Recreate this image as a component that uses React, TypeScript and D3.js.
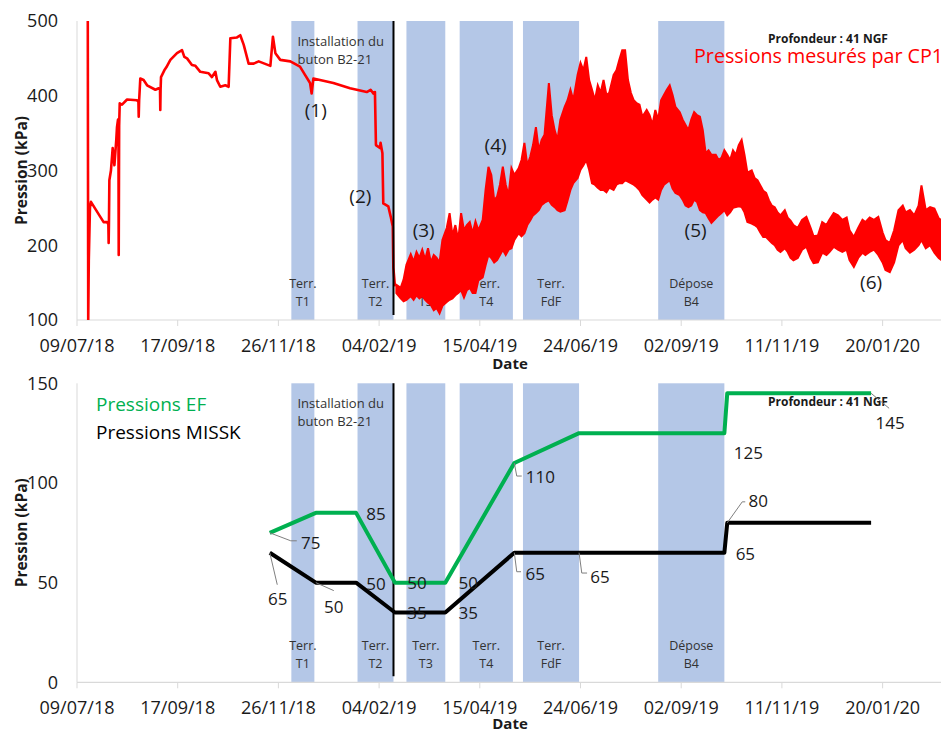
import React from 'react';
import * as d3 from 'd3';

// ---------- DATA ----------
const START = '2018-07-09';
const END = '2020-03-01';

const tickLabels = ['09/07/18', '17/09/18', '26/11/18', '04/02/19', '15/04/19', '24/06/19', '02/09/19', '11/11/19', '20/01/20'];
const topYTicks = [100, 200, 300, 400, 500];
const bottomYTicks = [0, 50, 100, 150];

const bandLabels = [['Terr.', 'T1'], ['Terr.', 'T2'], ['Terr.', 'T3'], ['Terr.', 'T4'], ['Terr.', 'FdF'], ['Dépose', 'B4']];
const bandStarts = ['2018-12-05', '2019-01-20', '2019-02-23', '2019-04-01', '2019-05-15', '2019-08-17'];
const bandEnds = ['2018-12-21', '2019-02-14', '2019-03-22', '2019-05-08', '2019-06-23', '2019-10-02'];
const installDate = '2019-02-14';
const installText = ['Installation du', 'buton B2-21'];

// CP1 measured pressures (days since 09/07/18, kPa) - quiet part
const cp1Days = [7.5, 7.8, 8.2, 9.0, 9.7, 16.2, 18.5, 20.9, 21.8, 22.0, 22.2, 22.5, 23.6, 24.8, 26.0, 27.3, 27.8, 28.5, 28.8, 29.0, 29.3, 29.7, 31.3, 34.8, 41.7, 42.7, 42.9, 43.2, 44.0, 46.3, 48.7, 54.5, 56.8, 57.7, 57.9, 58.1, 58.4, 60.7, 62.1, 64.9, 69.5, 73.0, 74.6, 76.5, 79.9, 82.3, 85.7, 91.5, 93.8, 96.2, 97.3, 99.6, 103.1, 105.4, 106.6, 111.2, 113.5, 115.9, 119.3, 122.8, 126.3, 134.4, 136.2, 137.9, 141.3, 148.3, 155.0, 158.5, 162.0, 163.1, 164.3, 168.9, 178.2, 189.8, 201.4, 204.1, 206.0, 207.1, 207.8, 210.6, 211.0, 212.3, 212.9, 216.4, 218.1, 219.5, 219.9, 221.0];
const cp1Values = [500, 100, 180, 250, 258, 238, 231, 231, 228, 203, 228, 287, 300, 330, 307, 341, 358, 368, 360, 187, 360, 390, 388, 395, 394, 392, 372, 394, 423, 421, 414, 408, 410, 408, 381, 408, 425, 434, 438, 448, 457, 461, 452, 450, 441, 440, 432, 430, 425, 432, 421, 412, 414, 412, 477, 478, 481, 468, 443, 443, 446, 440, 479, 457, 448, 446, 439, 428, 417, 403, 423, 421, 417, 410, 405, 408, 403, 405, 334, 330, 337, 323, 256, 252, 238, 225, 170, 145];

// CP1 noisy part: envelope (min / max) of the oscillations
const cp1BandDays = [222, 225, 227, 229, 232, 234, 236, 238, 240, 242, 244, 246, 248, 250, 252, 254, 257, 259, 261, 263, 265, 267, 269, 271, 273, 275, 277, 279, 282, 284, 286, 288, 290, 292, 294, 296, 298, 300, 302, 304, 307, 309, 311, 313, 315, 317, 319, 321, 323, 325, 328, 330, 332, 334, 336, 339, 341, 343, 345, 348, 350, 352, 354, 356, 358, 360, 362, 364, 366, 368, 370, 373, 375, 377, 379, 381, 383, 385, 387, 389, 391, 393, 396, 398, 400, 402, 404, 406, 408, 410, 412, 414, 416, 419, 421, 423, 425, 427, 429, 431, 433, 435, 437, 439, 441, 444, 446, 448, 450, 452, 454, 456, 458, 460, 462, 464, 466, 469, 471, 473, 475, 477, 479, 481, 483, 485, 487, 489, 492, 494, 496, 498, 501, 504, 507, 510, 512, 515, 518, 521, 523, 526, 529, 532, 535, 537, 540, 543, 546, 548, 551, 554, 557, 560, 562, 565, 568, 571, 574, 576, 579, 582, 585, 587, 590, 593, 596, 599, 601];
const cp1BandHigh = [147, 143, 154, 174, 188, 178, 191, 183, 194, 181, 196, 177, 187, 183, 177, 207, 223, 243, 213, 227, 207, 243, 220, 227, 231, 216, 232, 220, 234, 274, 305, 294, 260, 265, 281, 305, 281, 267, 303, 294, 303, 314, 337, 307, 318, 334, 358, 327, 341, 348, 417, 374, 354, 341, 368, 385, 394, 408, 394, 428, 444, 434, 452, 421, 408, 394, 414, 404, 421, 401, 404, 428, 434, 448, 461, 461, 421, 404, 394, 390, 388, 372, 381, 374, 361, 381, 368, 394, 401, 408, 414, 401, 385, 378, 368, 361, 354, 368, 378, 374, 372, 354, 323, 327, 321, 321, 314, 317, 327, 321, 314, 327, 321, 334, 341, 321, 297, 300, 290, 287, 280, 273, 270, 260, 253, 251, 244, 240, 247, 237, 233, 227, 223, 234, 238, 223, 212, 213, 231, 227, 234, 243, 240, 234, 237, 220, 211, 223, 234, 231, 237, 234, 238, 217, 207, 203, 220, 247, 253, 244, 247, 240, 253, 280, 247, 251, 249, 236, 233];
const cp1BandLow = [136, 129, 125, 127, 132, 127, 133, 129, 132, 127, 123, 120, 113, 116, 109, 119, 124, 127, 129, 133, 136, 140, 130, 140, 143, 136, 136, 153, 157, 173, 187, 183, 177, 180, 187, 194, 187, 194, 196, 207, 216, 212, 216, 227, 233, 240, 243, 247, 254, 257, 260, 254, 251, 247, 245, 247, 260, 274, 283, 290, 301, 307, 314, 301, 283, 281, 277, 274, 274, 271, 277, 274, 281, 283, 283, 287, 285, 283, 281, 278, 274, 267, 261, 257, 261, 264, 261, 274, 281, 284, 287, 276, 270, 267, 261, 253, 251, 253, 261, 258, 247, 244, 243, 236, 230, 236, 240, 243, 247, 240, 244, 250, 251, 252, 251, 244, 231, 229, 227, 224, 217, 211, 211, 207, 203, 200, 194, 191, 196, 191, 183, 180, 183, 194, 198, 183, 176, 177, 190, 187, 191, 198, 194, 191, 194, 180, 171, 183, 190, 187, 191, 194, 187, 177, 167, 164, 177, 200, 207, 196, 190, 194, 200, 207, 196, 200, 190, 183, 180];

const annotationTexts = ['(1)', '(2)', '(3)', '(4)', '(5)', '(6)'];
const annotationDays = [166, 197, 241, 291, 430, 552];
const annotationValues = [381, 265, 220, 334, 220, 151];

// Bottom chart: model pressures
const modelDates = ['2018-11-20', '2018-12-22', '2019-01-19', '2019-02-15', '2019-03-22', '2019-05-09', '2019-06-23', '2019-10-02', '2019-10-04', '2020-01-12'];
const efValues = [75, 85, 85, 50, 50, 110, 125, 125, 145, 145];
const misskValues = [65, 50, 50, 35, 35, 65, 65, 65, 80, 80];

// which points carry a data label (index into modelDates)
const efLabelIdx = [0, 2, 3, 4, 5, 7, 9];
const misskLabelIdx = [0, 1, 2, 3, 4, 5, 6, 7, 8];

// ---------- LAYOUT / STYLE ----------
const W = 941, H = 731;
const FONT = "'Open Sans', 'Liberation Sans', sans-serif";
const BAND = '#b4c7e7';
const AXIS = '#d9d9d9';
const GREEN = '#00b050';
const RED = '#ff0000';

// label offsets relative to their point (px), leaders as polyline offsets
const efLabelLayout: Record<number, { dx: number; dy: number; leader?: number[][] }> = {
  0: { dx: 41, dy: 10, leader: [[0, 0], [21, 8], [27, 8]] },
  2: { dx: 20, dy: 1 },
  3: { dx: 22, dy: 0 },
  4: { dx: 23, dy: 0 },
  5: { dx: 26, dy: 14, leader: [[0, 0], [2.4, 13], [7.4, 13]] },
  7: { dx: 24, dy: 20 },
  9: { dx: 19, dy: 30, leader: [[0, 0], [18, 15]] },
};
const misskLabelLayout: Record<number, { dx: number; dy: number; leader?: number[][] }> = {
  0: { dx: 8, dy: 46, leader: [[0, 0], [7.5, 32]] },
  1: { dx: 18, dy: 24, leader: [[0, 0], [18, 8]] },
  2: { dx: 20, dy: 1 },
  3: { dx: 22, dy: 1 },
  4: { dx: 23, dy: 1 },
  5: { dx: 21, dy: 21, leader: [[0, 0], [2.4, 19], [6.7, 19]] },
  6: { dx: 21, dy: 24, leader: [[0, 0], [2.7, 20.3], [8, 20.3]] },
  7: { dx: 21, dy: 1 },
  8: { dx: 31, dy: -22, leader: [[0, 0], [15, -21], [18, -21]] },
};

const parse = d3.utcParse('%Y-%m-%d');
const parseTick = d3.utcParse('%d/%m/%y');
const t0 = parse(START)!;
const dayToDate = (d: number) => new Date(t0.getTime() + d * 864e5);

const x = d3.scaleUtc().domain([t0, parse(END)!]).range([77, 941.6]);
const X0 = 77, X1 = 941;

const topPanel = { top: 21, bottom: 320, dateY: 49 };
const botPanel = { top: 383.3, bottom: 682.3, dateY: 47 };
const yTop = d3.scaleLinear().domain([100, 500]).range([topPanel.bottom, topPanel.top]);
const yBot = d3.scaleLinear().domain([0, 150]).range([botPanel.bottom, botPanel.top]);

function Frame({ panel, yScale, yTicks }: { panel: { top: number; bottom: number; dateY: number }; yScale: d3.ScaleLinear<number, number>; yTicks: number[] }) {
  const lineX = x(parse(installDate)!);
  return (
    <g>
      {bandStarts.map((s, i) => {
        const xa = x(parse(s)!), xb = x(parse(bandEnds[i])!);
        const cx = (xa + xb) / 2;
        return (
          <g key={i}>
            <rect x={xa} y={panel.top} width={xb - xa} height={panel.bottom - panel.top} fill={BAND} />
            <text x={cx} y={panel.bottom - 32} textAnchor="middle" fontSize={12.5} fill="#333" fontFamily={FONT}>{bandLabels[i][0]}</text>
            <text x={cx} y={panel.bottom - 14} textAnchor="middle" fontSize={12.5} fill="#333" fontFamily={FONT}>{bandLabels[i][1]}</text>
          </g>
        );
      })}
      <line x1={X0} x2={X0} y1={panel.top} y2={panel.bottom} stroke={AXIS} strokeWidth={1} />
      <line x1={X0} x2={X1} y1={panel.bottom} y2={panel.bottom} stroke={AXIS} strokeWidth={1.2} />
      {tickLabels.map((t) => {
        const tx = x(parseTick(t)!);
        return (
          <g key={t}>
            <line x1={tx} x2={tx} y1={panel.bottom} y2={panel.bottom + 6} stroke={AXIS} />
            <text x={tx} y={panel.bottom + 32} textAnchor="middle" fontSize={18} fill="#1a1a1a" fontFamily={FONT}>{t}</text>
          </g>
        );
      })}
      <text x={510} y={panel.bottom + panel.dateY} textAnchor="middle" fontSize={15} fontWeight="bold" fill="#1a1a1a" fontFamily={FONT}>Date</text>
      {yTicks.map((v) => (
        <text key={v} x={58} y={yScale(v)} dy="0.35em" textAnchor="end" fontSize={18} fill="#1a1a1a" fontFamily={FONT}>{v}</text>
      ))}
      <text transform={`translate(22,${(panel.top + panel.bottom) / 2}) rotate(-90)`} textAnchor="middle" dy="0.35em" fontSize={15.5} fontWeight="bold" fill="#1a1a1a" fontFamily={FONT}>Pression (kPa)</text>
      <text x={lineX - 96} y={panel.top + 25} fontSize={13} fill="#333" fontFamily={FONT}>{installText[0]}</text>
      <text x={lineX - 96} y={panel.top + 43} fontSize={13} fill="#333" fontFamily={FONT}>{installText[1]}</text>
    </g>
  );
}

export default function App() {
  const lineX = x(parse(installDate)!);

  const smooth = d3.line<number>()
    .x((_, i) => x(dayToDate(cp1Days[i])))
    .y((_, i) => yTop(cp1Values[i]));
  const band = d3.area<number>()
    .x((_, i) => x(dayToDate(cp1BandDays[i])))
    .y0((_, i) => yTop(cp1BandLow[i]))
    .y1((_, i) => yTop(cp1BandHigh[i]));

  const modelLine = (vals: number[]) => d3.line<number>()
    .x((_, i) => x(parse(modelDates[i])!))
    .y((v) => yBot(v))(vals)!;

  const renderLabels = (vals: number[], idx: number[], layout: typeof efLabelLayout, prefix: string) =>
    idx.map((i) => {
      const px = x(parse(modelDates[i])!), py = yBot(vals[i]);
      const l = layout[i];
      return (
        <g key={prefix + i}>
          {l.leader && (
            <polyline points={l.leader.map(([a, b]) => `${px + a},${py + b}`).join(' ')} fill="none" stroke="#7f7f7f" strokeWidth={1} />
          )}
          <text x={px + l.dx} y={py + l.dy} dy="0.35em" textAnchor="middle" fontSize={17} fill="#1a1a1a" fontFamily={FONT}>{vals[i]}</text>
        </g>
      );
    });

  return (
    <div style={{ position: 'absolute', left: 0, top: 0, width: W, height: H, background: '#fff' }}>
      <svg width={W} height={H} style={{ display: 'block' }}>
        <defs>
          <clipPath id="clipTop">
            <rect x={X0} y={topPanel.top - 1} width={X1 - X0} height={topPanel.bottom - topPanel.top + 1} />
          </clipPath>
        </defs>
        <rect width={W} height={H} fill="#fff" />

        {/* Top chart */}
        <Frame panel={topPanel} yScale={yTop} yTicks={topYTicks} />
        <g clipPath="url(#clipTop)">
          <path d={smooth(cp1Values)!} fill="none" stroke={RED} strokeWidth={2.6} strokeLinejoin="round" />
          <path d={band(cp1BandHigh)!} fill={RED} stroke={RED} strokeWidth={2} strokeLinejoin="miter" />
        </g>
        <line x1={lineX} x2={lineX} y1={topPanel.top} y2={topPanel.bottom - 5} stroke="#000" strokeWidth={2} />
        {annotationTexts.map((t, i) => (
          <text key={t} x={x(dayToDate(annotationDays[i]))} y={yTop(annotationValues[i])} dy="0.35em" textAnchor="middle" fontSize={19} fill="#1a1a1a" fontFamily={FONT}>{t}</text>
        ))}
        <text x={828} y={topPanel.top + 22} textAnchor="middle" fontSize={12} fontWeight="bold" fill="#1a1a1a" fontFamily={FONT}>Profondeur : 41 NGF</text>
        <text x={694} y={topPanel.top + 42} fontSize={19.7} fill={RED} fontFamily={FONT}>Pressions mesurés par CP1</text>

        {/* Bottom chart */}
        <Frame panel={botPanel} yScale={yBot} yTicks={bottomYTicks} />
        <line x1={lineX} x2={lineX} y1={botPanel.top} y2={botPanel.bottom - 6} stroke="#000" strokeWidth={2} />
        <path d={modelLine(efValues)} fill="none" stroke={GREEN} strokeWidth={4} strokeLinejoin="round" />
        <path d={modelLine(misskValues)} fill="none" stroke="#000" strokeWidth={4} strokeLinejoin="round" />
        <text x={828} y={botPanel.top + 23} textAnchor="middle" fontSize={12} fontWeight="bold" fill="#1a1a1a" fontFamily={FONT}>Profondeur : 41 NGF</text>
        {renderLabels(efValues, efLabelIdx, efLabelLayout, 'ef')}
        {renderLabels(misskValues, misskLabelIdx, misskLabelLayout, 'mk')}
        <text x={96} y={botPanel.top + 28} fontSize={19} fill={GREEN} fontFamily={FONT}>Pressions EF</text>
        <text x={96} y={botPanel.top + 56} fontSize={19} fill="#000" fontFamily={FONT}>Pressions MISSK</text>
      </svg>
    </div>
  );
}
